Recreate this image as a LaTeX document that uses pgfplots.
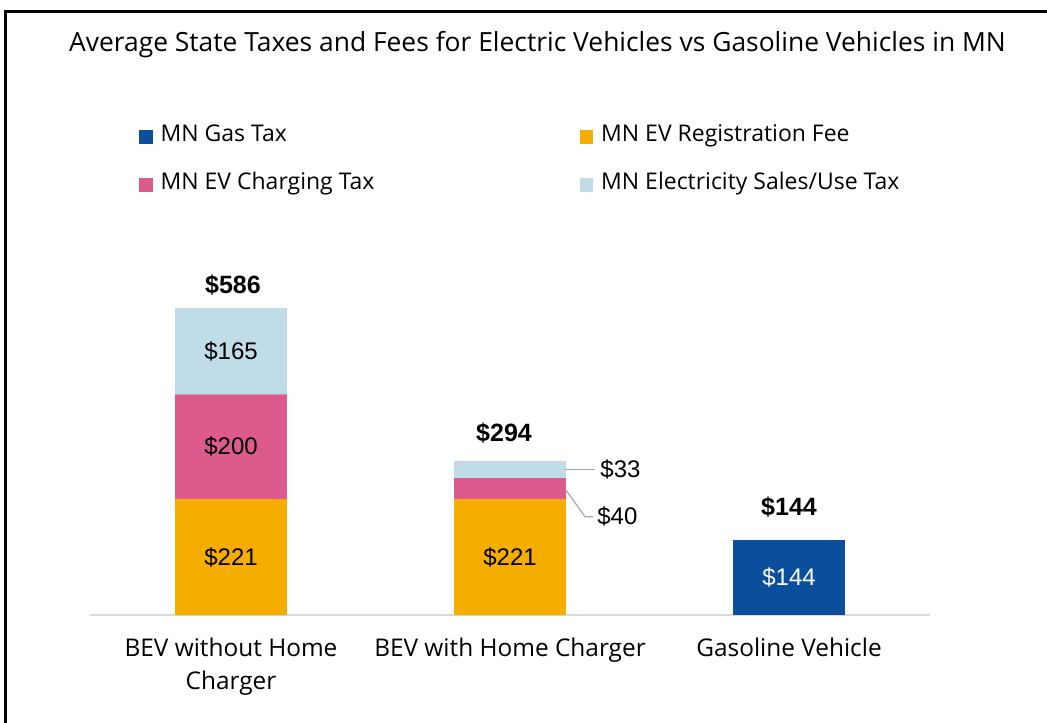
\documentclass[border=0pt]{standalone}
\usepackage{fontspec}
\setmainfont{Open Sans}
\newfontfamily\numfont{Liberation Sans}
\usepackage{pgfplots}
\pgfplotsset{compat=1.18}
\definecolor{gasblue}{HTML}{0B4F9C}
\definecolor{regorange}{HTML}{F5AD00}
\definecolor{chgpink}{HTML}{DC5A8C}
\definecolor{elecblue}{HTML}{C0DCE8}
\definecolor{baseg}{HTML}{D9D9D9}
\definecolor{leadg}{HTML}{A6A6A6}
\pgfplotsset{sq/.style={legend image code/.code={\fill[##1] (0pt,-3.75pt) rectangle (6.8pt,3.05pt);}}}
\tikzset{vlab/.style={font={\numfont\fontsize{12}{14}\selectfont}},
 tlab/.style={font={\numfont\bfseries\fontsize{12.5}{14}\selectfont}}}
\begin{document}
\begin{tikzpicture}
\useasboundingbox (0,0) rectangle (523.5pt,361pt);
\draw[line width=1.5pt] (2.5pt,-1pt) -- (2.5pt,355pt) -- (526pt,355pt);
\node[font=\fontsize{13.2}{15}\selectfont] at (268.75pt,338.5pt) {Average State Taxes and Fees for Electric Vehicles vs Gasoline Vehicles in MN};
\begin{axis}[
 at={(45pt,53.5pt)}, anchor=south west,
 scale only axis, width=420pt, height=157.2pt,
 xmin=-0.5054, xmax=2.5054, ymin=0, ymax=600,
 ybar stacked, bar width=0.4,
 axis y line=none, axis x line*=bottom,
 x axis line style={baseg, line width=1pt, -},
 xtick={0,1,2},
 xticklabels={{BEV without Home\\Charger},{BEV with Home Charger},{Gasoline Vehicle}},
 major tick length=0pt,
 xticklabel style={font=\fontsize{12.2}{16.5}\selectfont, align=center, yshift=-8pt},
 clip=false,
 legend columns=2,
 legend style={draw=none, fill=none, at={(0.0583,1.556)}, anchor=north west, inner sep=0pt, outer sep=0pt, column sep=4pt, row sep=13.5pt, font=\fontsize{11.5}{13}\selectfont, nodes={inner sep=0pt, text height=8pt, text depth=2.5pt}},
 legend cell align=left,
]
\addplot[fill=gasblue, draw=none, sq] coordinates {(0,0) (1,0) (2,144)};
\addlegendentry{\makebox[205.5pt][l]{MN Gas Tax}}
\addplot[fill=regorange, draw=none, sq] coordinates {(0,221) (1,221) (2,0)};
\addlegendentry{\makebox[205.5pt][l]{MN EV Registration Fee}}
\addplot[fill=chgpink, draw=none, sq] coordinates {(0,200) (1,40) (2,0)};
\addlegendentry{\makebox[205.5pt][l]{MN EV Charging Tax}}
\addplot[fill=elecblue, draw=none, sq] coordinates {(0,165) (1,33) (2,0)};
\addlegendentry{\makebox[205.5pt][l]{MN Electricity Sales/Use Tax}}
\coordinate (l165) at (axis cs:0,503.5);
\coordinate (l200) at (axis cs:0,321);
\coordinate (l221a) at (axis cs:0,110.5);
\coordinate (l221b) at (axis cs:1,110.5);
\coordinate (l144) at (axis cs:2,72);
\coordinate (l33) at (axis cs:1.3226,277.5);
\coordinate (l40) at (axis cs:1.3118,187.6);
\coordinate (t586) at (axis cs:0.0071,630);
\coordinate (t294) at (axis cs:0.9785,347);
\coordinate (t144) at (axis cs:2.0,206);
\coordinate (a1) at (axis cs:1.197,277.5);
\coordinate (a2) at (axis cs:1.3046,277.5);
\coordinate (b1) at (axis cs:1.197,241);
\coordinate (b2) at (axis cs:1.2688,187.6);
\coordinate (b3) at (axis cs:1.2975,187.6);
\end{axis}
\node[vlab] at (l165) {\$165};
\node[vlab] at (l200) {\$200};
\node[vlab] at (l221a) {\$221};
\node[vlab] at (l221b) {\$221};
\node[vlab, text=white] at (l144) {\$144};
\node[vlab, anchor=west, inner sep=0pt] at (l33) {\$33};
\node[vlab, anchor=west, inner sep=0pt] at (l40) {\$40};
\draw[leadg, line width=0.6pt] (a1) -- (a2);
\draw[leadg, line width=0.6pt] (b1) -- (b2) -- (b3);
\node[tlab] at (t586) {\$586};
\node[tlab] at (t294) {\$294};
\node[tlab] at (t144) {\$144};
\end{tikzpicture}
\end{document}
